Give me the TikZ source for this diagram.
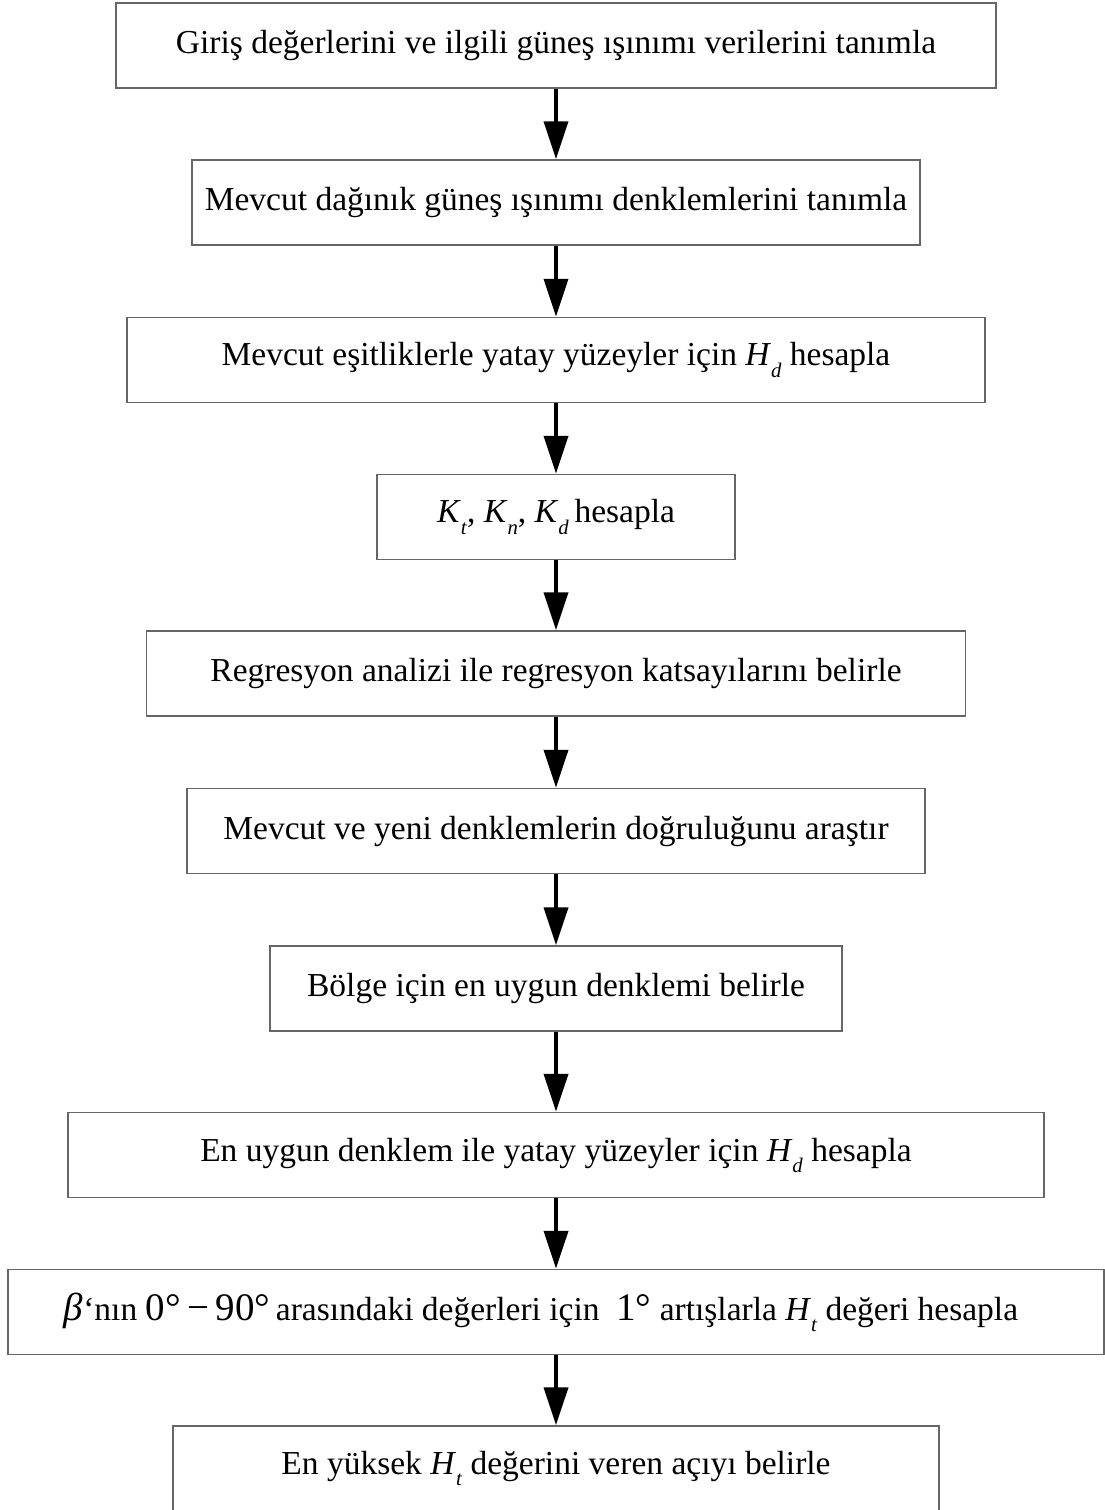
\documentclass[tikz,border=0pt]{standalone}
\usepackage{fontspec}
\setmainfont{Liberation Serif}
\usetikzlibrary{arrows.meta}
\newcommand{\hsub}[2]{\textit{#1}\raisebox{-0.33em}{\scalebox{0.62}{\textit{#2}}}}
\newcommand{\iri}[1]{{\fontsize{39}{42}\selectfont #1}}

\begin{document}
\begin{tikzpicture}[x=1pt,y=-1pt,
  kutu/.style={draw=black!60, line width=1.5pt, minimum height=85pt, inner sep=0pt, font=\fontsize{33.5}{40}\selectfont},
  ok/.style={line width=4pt, -{Triangle[length=38pt,width=24pt]}}]
\useasboundingbox (0,0) rectangle (1105,1510);

% boxes
\node[kutu, minimum width=880pt] (giris) at (556,45.5) {Giriş değerlerini ve ilgili güneş ışınımı verilerini tanımla};
\node[kutu, minimum width=728pt] (mevcut) at (556,202.5) {Mevcut dağınık güneş ışınımı denklemlerini tanımla};
\node[kutu, minimum width=858pt] (yatay) at (556,360) {Mevcut eşitliklerle yatay yüzeyler için \hsub{H}{d} hesapla};
\node[kutu, minimum width=358pt] (katsayi) at (556,517) {\hsub{K}{t}, \hsub{K}{n}, \hsub{K}{d}\,hesapla};
\node[kutu, minimum width=819pt] (regresyon) at (556,673.5) {Regresyon analizi ile regresyon katsayılarını belirle};
\node[kutu, minimum width=738pt] (dogruluk) at (556,831) {Mevcut ve yeni denklemlerin doğruluğunu araştır};
\node[kutu, minimum width=572pt] (bolge) at (556,988.5) {Bölge için en uygun denklemi belirle};
\node[kutu, minimum width=976pt] (uygun) at (556,1155) {En uygun denklem ile yatay yüzeyler için \hsub{H}{d} hesapla};
\node[kutu, minimum width=1096pt] (beta) at (556,1312)
  {\iri{\textit{β}}‘nın \iri{0°\,−\,90°}\,arasındaki değerleri için\enspace\iri{1°} artışlarla \hsub{H}{t} değeri hesapla\rule{30pt}{0pt}};
\node[kutu, minimum width=766pt] (aci) at (556,1468.5) {En yüksek \hsub{H}{t} değerini veren açıyı belirle};

% arrows
\foreach \a/\b in {giris/mevcut, mevcut/yatay, yatay/katsayi, katsayi/regresyon,
  regresyon/dogruluk, dogruluk/bolge, bolge/uygun, uygun/beta, beta/aci}
\draw[ok] (\a) -- (\b);
\end{tikzpicture}
\end{document}
